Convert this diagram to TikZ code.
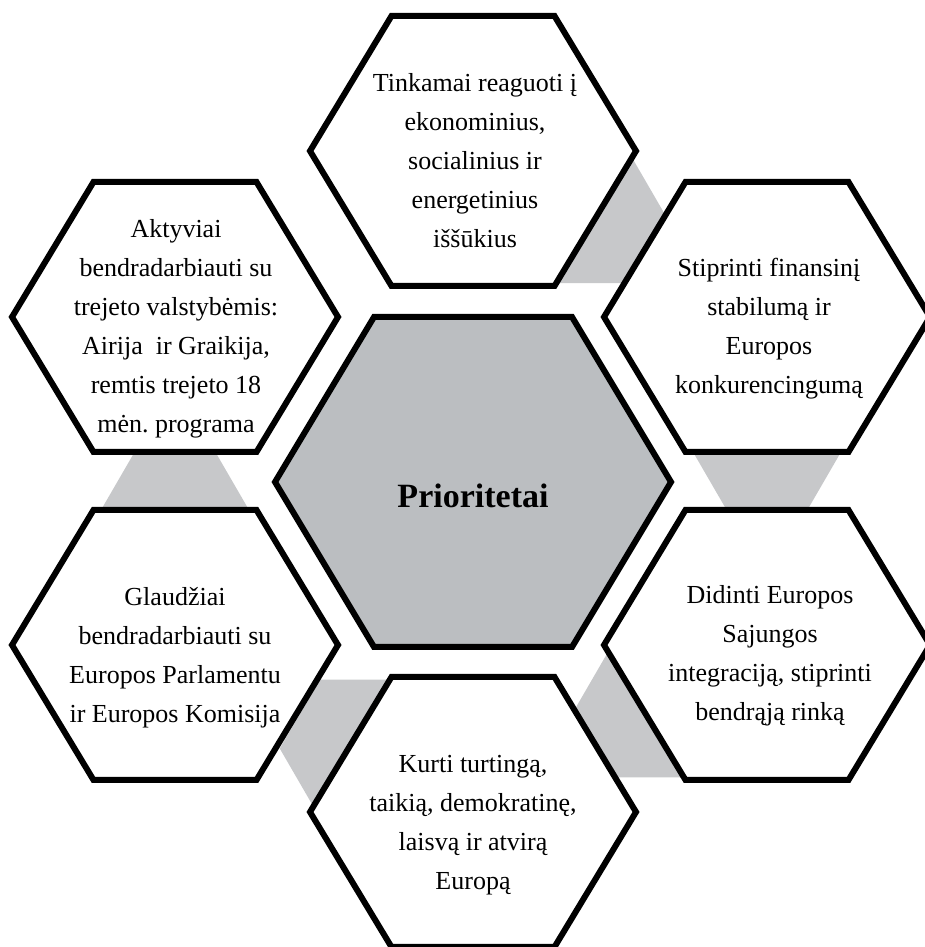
\documentclass[tikz,border=0pt]{standalone}
\usepackage{fontspec}
\setmainfont{Liberation Serif}
\frenchspacing
\usetikzlibrary{calc}
\definecolor{linkgray}{RGB}{199,200,202}
\definecolor{hubgray}{RGB}{187,190,193}
\tikzset{
  hexline/.style={black, line width=6pt, line join=miter},
  hextext/.style={align=center, inner sep=0pt, font=\fontsize{26}{39}\selectfont},
}

\begin{document}
\begin{tikzpicture}[x=1pt,y=1pt]
\useasboundingbox (0,0) rectangle (925,947);
% centres of the hexagons
\coordinate (hub) at (473,465);
\coordinate (tp) at (473,796);
\coordinate (ur) at (767,630);
\coordinate (lr) at (767,302);
\coordinate (bt) at (473,135);
\coordinate (ll) at (175,302);
\coordinate (ul) at (175,630);
% gray links between neighbours
\foreach \a/\b in {tp/ur, ur/lr, lr/bt, bt/ll, ll/ul}
  \fill[linkgray] ($(\a)!0.38!(\b)$) ++(-80,0) -- ++(40,69) -- ++(80,0) -- ++(40,-69) -- ++(-40,-69) -- ++(-80,0) -- cycle;
% outer hexagons
\foreach \n in {tp,ur,lr,bt,ll,ul}
  \draw[hexline, fill=white] (\n) ++(-163,0) -- ++(81.5,135) -- ++(163,0) -- ++(81.5,-135) -- ++(-81.5,-135) -- ++(-163,0) -- cycle;
% centre hexagon
\draw[hexline, fill=hubgray] (hub) ++(-198,0) -- ++(99,165) -- ++(198,0) -- ++(99,-165) -- ++(-99,-165) -- ++(-198,0) -- cycle;
\node[hextext, font=\fontsize{34}{40}\selectfont\bfseries] (hubt) at ($(hub)+(0,-14)$) {Prioritetai};
% texts
\node[hextext] (tpt) at ($(tp)+(2,-10)$) {Tinkamai reaguoti į\\ekonominius,\\socialinius ir\\energetinius\\iššūkius};
\node[hextext] (urt) at ($(ur)+(2,-12)$) {Stiprinti finansinį\\stabilumą ir\\Europos\\konkurencingumą};
\node[hextext] (lrt) at ($(lr)+(3,-11)$) {Didinti Europos\\Sajungos\\integraciją, stiprinti\\bendrąją rinką};
\node[hextext] (btt) at ($(bt)+(0,-13)$) {Kurti turtingą,\\taikią, demokratinę,\\laisvą ir atvirą\\Europą};
\node[hextext] (llt) at ($(ll)+(0,-13)$) {Glaudžiai\\bendradarbiauti su\\Europos Parlamentu\\ir Europos Komisija};
\node[hextext] (ult) at ($(ul)+(1,-12)$) {Aktyviai\\bendradarbiauti su\\trejeto valstybėmis:\\Airija~ ir Graikija,\\remtis trejeto 18\\mėn. programa};
\end{tikzpicture}
\end{document}
